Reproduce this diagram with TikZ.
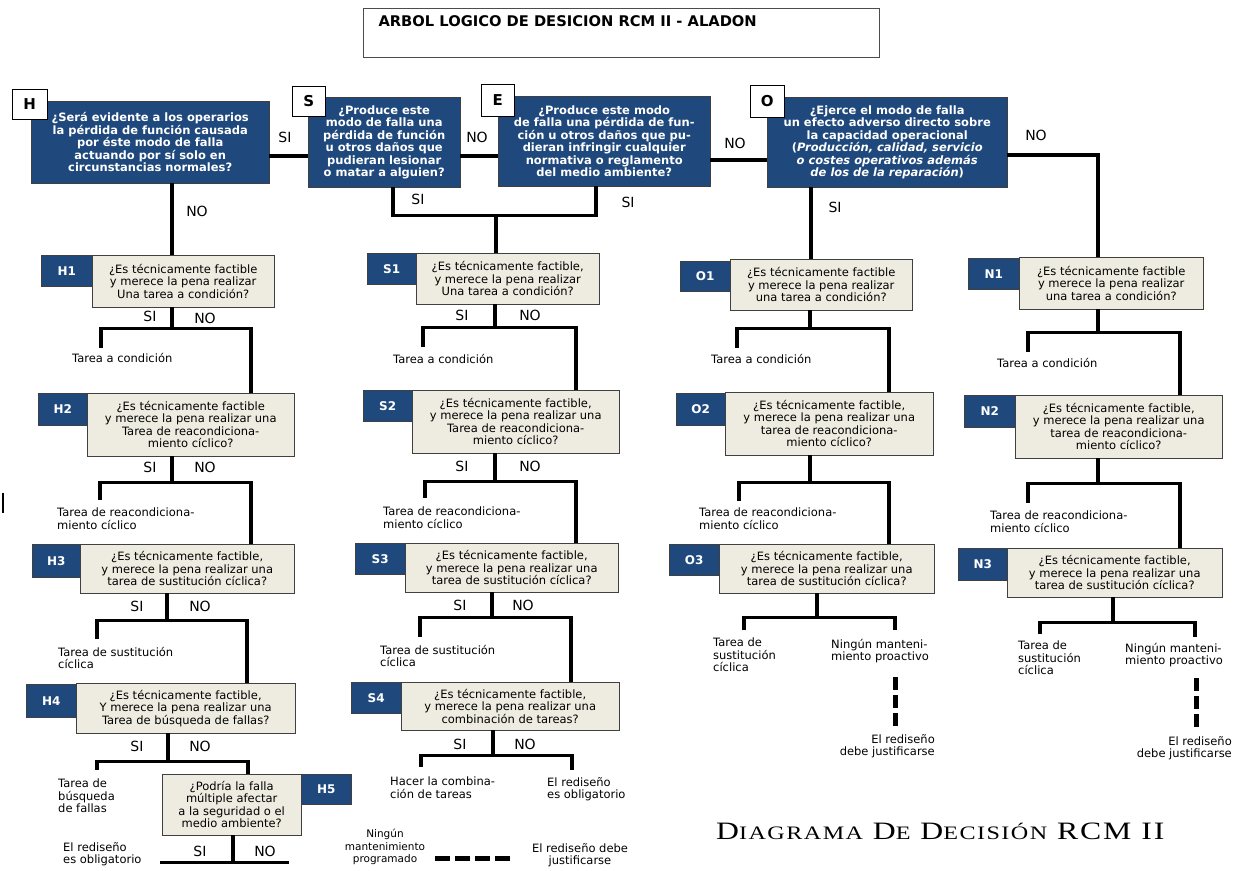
\documentclass[tikz,border=0pt]{standalone}
\usepackage{graphicx}
\usepackage{fontspec}
\setmainfont{DejaVu Sans}
\newfontfamily\titlefont[LetterSpace=6]{Liberation Serif}
\usepackage{tikz}

\definecolor{rcmblue}{RGB}{31,73,125}
\definecolor{rcmbeige}{RGB}{238,236,225}

\newcommand\fbody{\fontsize{11.5}{12.5}\selectfont}
\newcommand\fyn{\fontsize{14}{16}\selectfont}
\newcommand\ftag{\fontsize{12}{14}\selectfont}
\newcommand\scw[2]{#1{\fontsize{19}{22}\selectfont #2}}

\tikzset{
  qhead/.style={draw=black!75, fill=rcmblue, text=white, font=\fbody\bfseries, align=center, anchor=north west, inner sep=1pt},
  qbox/.style={draw=black!75, fill=rcmbeige, font=\fbody, align=center, anchor=north west, inner sep=1pt},
  qtag/.style={draw=black!75, fill=rcmblue, text=white, font=\ftag\bfseries, anchor=north west, inner sep=0pt},
  ltag/.style={draw=black, fill=white, font=\fontsize{15}{17}\selectfont\bfseries, anchor=north west, inner sep=0pt},
  conn/.style={line width=3.6pt},
  yn/.style={font=\fyn},
  res/.style={font=\fbody, align=left, anchor=north west, inner sep=0pt},
  justif/.style={line width=5pt, dash pattern=on 13pt off 5pt},
}

\begin{document}
\begin{tikzpicture}[x=1pt,y=-1pt]
\useasboundingbox (0,0) rectangle (1233,870);

% title
\node[draw=black!70, minimum width=516, minimum height=49, anchor=north west] (tbox) at (363,8) {};
\node[font=\fontsize{14.7}{16}\selectfont\bfseries, anchor=west] (title) at (375,21) {ARBOL LOGICO DE DESICION RCM II - ALADON};

% first row: consequences
\node[qhead, minimum width=238, minimum height=82] (h) at (31,101) {¿Será evidente a los operarios\\la pérdida de función causada\\por éste modo de falla\\actuando por sí solo en\\circunstancias normales?};
\node[ltag, minimum width=35, minimum height=30] (hl) at (12,89) {H};
\node[qhead, minimum width=152, minimum height=90] (s) at (308,97) {¿Produce este\\modo de falla una\\pérdida de función\\u otros daños que\\pudieran lesionar\\o matar a alguien?};
\node[ltag, minimum width=33, minimum height=30] (sl) at (292,86) {S};
\node[qhead, minimum width=212, minimum height=90] (e) at (498,96) {¿Produce este modo\\de falla una pérdida de fun-\\ción u otros daños que pu-\\dieran infringir cualquier\\normativa o reglamento\\del medio ambiente?};
\node[ltag, minimum width=33, minimum height=32] (el) at (481,84) {E};
\node[qhead, minimum width=240, minimum height=90] (o) at (767,97) {¿Ejerce el modo de falla\\un efecto adverso directo sobre\\la capacidad operacional\\(\textit{Producción, calidad, servicio}\\\textit{o costes operativos además}\\\textit{de los de la reparación})};
\node[ltag, minimum width=34, minimum height=32] (ol) at (750,85) {O};

% column H
\node[qbox, minimum width=182, minimum height=52] (h1) at (92,255) {¿Es técnicamente factible\\y merece la pena realizar\\Una tarea a condición?};
\node[qtag, minimum width=51, minimum height=31] (h1t) at (41,255) {H1};
\node[qbox, minimum width=207, minimum height=63] (h2) at (87,393) {¿Es técnicamente factible\\y merece la pena realizar una\\Tarea de reacondiciona-\\miento cíclico?};
\node[qtag, minimum width=49, minimum height=32] (h2t) at (38,393) {H2};
\node[qbox, minimum width=214, minimum height=49] (h3) at (80,544) {¿Es técnicamente factible,\\y merece la pena realizar una\\tarea de sustitución cíclica?};
\node[qtag, minimum width=48, minimum height=33] (h3t) at (32,544) {H3};
\node[qbox, minimum width=219, minimum height=50] (h4) at (76,683) {¿Es técnicamente factible,\\Y merece la pena realizar una\\Tarea de búsqueda de fallas?};
\node[qtag, minimum width=50, minimum height=33] (h4t) at (26,684) {H4};
\node[qbox, minimum width=139, minimum height=61] (h5) at (162,774) {¿Podría la falla\\múltiple afectar\\a la seguridad o el\\medio ambiente?};
\node[qtag, minimum width=50, minimum height=30] (h5t) at (301,774) {H5};

% column S
\node[qbox, minimum width=183, minimum height=51] (s1) at (416,253) {¿Es técnicamente factible,\\y merece la pena realizar\\Una tarea a condición?};
\node[qtag, minimum width=49, minimum height=31] (s1t) at (367,253) {S1};
\node[qbox, minimum width=207, minimum height=63] (s2) at (412,390) {¿Es técnicamente factible,\\y merece la pena realizar una\\Tarea de reacondiciona-\\miento cíclico?};
\node[qtag, minimum width=49, minimum height=31] (s2t) at (363,390) {S2};
\node[qbox, minimum width=213, minimum height=49] (s3) at (405,543) {¿Es técnicamente factible,\\y merece la pena realizar una\\tarea de sustitución cíclica?};
\node[qtag, minimum width=50, minimum height=31] (s3t) at (355,543) {S3};
\node[qbox, minimum width=218, minimum height=48] (s4) at (401,682) {¿Es técnicamente factible,\\y merece la pena realizar una\\combinación de tareas?};
\node[qtag, minimum width=50, minimum height=31] (s4t) at (351,682) {S4};

% column O
\node[qbox, minimum width=182, minimum height=51] (o1) at (730,259) {¿Es técnicamente factible\\y merece la pena realizar\\una tarea a condición?};
\node[qtag, minimum width=50, minimum height=30] (o1t) at (680,261) {O1};
\node[qbox, minimum width=208, minimum height=63] (o2) at (725,392) {¿Es técnicamente factible,\\y merece la pena realizar una\\tarea de reacondiciona-\\miento cíclico?};
\node[qtag, minimum width=49, minimum height=32] (o2t) at (676,393) {O2};
\node[qbox, minimum width=215, minimum height=49] (o3) at (719,544) {¿Es técnicamente factible,\\y merece la pena realizar una\\tarea de sustitución cíclica?};
\node[qtag, minimum width=50, minimum height=31] (o3t) at (669,544) {O3};

% column N
\node[qbox, minimum width=184, minimum height=52] (n1) at (1019,257) {¿Es técnicamente factible\\y merece la pena realizar\\una tarea a condición?};
\node[qtag, minimum width=51, minimum height=31] (n1t) at (968,258) {N1};
\node[qbox, minimum width=207, minimum height=63] (n2) at (1015,395) {¿Es técnicamente factible,\\y merece la pena realizar una\\tarea de reacondiciona-\\miento cíclico?};
\node[qtag, minimum width=51, minimum height=32] (n2t) at (964,395) {N2};
\node[qbox, minimum width=215, minimum height=49] (n3) at (1007,548) {¿Es técnicamente factible,\\y merece la pena realizar una\\tarea de sustitución cíclica?};
\node[qtag, minimum width=49, minimum height=32] (n3t) at (958,548) {N3};

% connectors between the first row
\draw[conn] ([yshift=-14]h.east) -- ([yshift=-14]s.west);
\draw[conn] ([yshift=-14]s.east) -- ([yshift=-15]e.west);
\draw[conn] ([yshift=-19]e.east) -- ([yshift=-18]o.west);
\draw[conn] ([yshift=-13]o.east) -| ([xshift=-13]n1.north);
\coordinate (hno) at ([xshift=22]h.south);
\draw[conn] (hno) -- (hno |- h1.north);
\coordinate (ssi) at ([xshift=9]s.south);
\coordinate (esi) at ([xshift=-8]e.south);
\draw[conn] (ssi) -- ++(0,28) -| (esi);
\coordinate (sej) at (496,215);
\draw[conn] (sej) -- (sej |- s1.north);
\coordinate (osi) at ([xshift=-76]o.south);
\draw[conn] (osi) -- (osi |- o1.north);

% branches H
\draw[conn] ([xshift=-11]h1.south) -- ++(0,21) coordinate (h1j);
\coordinate (h1l) at (101,348);
\draw[conn] (h1l) |- (h1j) -| ([xshift=60.5]h2.north);
\draw[conn] ([xshift=-18.5]h2.south) -- ++(0,26) coordinate (h2j);
\coordinate (h2l) at (100,500);
\draw[conn] (h2l) |- (h2j) -| ([xshift=64]h3.north);
\draw[conn] ([xshift=-20]h3.south) -- ++(0,27) coordinate (h3j);
\coordinate (h3l) at (97,639);
\draw[conn] (h3l) |- (h3j) -| ([xshift=61.5]h4.north);
\draw[conn] ([xshift=-17.5]h4.south) -- ++(0,28) coordinate (h4j);
\coordinate (h4l) at (97,770);
\draw[conn] (h4l) |- (h4j) -| ([xshift=16.5]h5.north);
\draw[conn] ([xshift=1.5]h5.south) -- ++(0,27) coordinate (h5j);
\draw[conn] ([xshift=-73]h5j) -- ([xshift=56]h5j);

% branches S
\draw[conn] ([xshift=-12.5]s1.south) -- ++(0,23) coordinate (s1j);
\coordinate (s1l) at (423,347);
\draw[conn] (s1l) |- (s1j) -| ([xshift=60.5]s2.north);
\draw[conn] ([xshift=-20.5]s2.south) -- ++(0,28) coordinate (s2j);
\coordinate (s2l) at (425,498);
\draw[conn] (s2l) |- (s2j) -| ([xshift=64.5]s3.north);
\draw[conn] ([xshift=-19.5]s3.south) -- ++(0,25) coordinate (s3j);
\coordinate (s3l) at (420,637);
\draw[conn] (s3l) |- (s3j) -| ([xshift=61]s4.north);
\draw[conn] ([xshift=-17]s4.south) -- ++(0,25) coordinate (s4j);
\coordinate (s4l) at (421,767);
\coordinate (s4r) at (572,770);
\draw[conn] (s4l) |- (s4j) -| (s4r);

% branches O
\draw[conn] ([xshift=-11]o1.south) -- ++(0,18) coordinate (o1j);
\coordinate (o1l) at (737,348);
\draw[conn] (o1l) |- (o1j) -| ([xshift=60]o2.north);
\draw[conn] ([xshift=-19]o2.south) -- ++(0,27) coordinate (o2j);
\coordinate (o2l) at (739,501);
\draw[conn] (o2l) |- (o2j) -| ([xshift=62.5]o3.north);
\draw[conn] ([xshift=-9.5]o3.south) -- ++(0,24) coordinate (o3j);
\coordinate (o3l) at (744,630);
\coordinate (o3r) at (895,630);
\draw[conn] (o3l) |- (o3j) -| (o3r);
\coordinate (o3d) at (895,677);
\draw[justif] (o3d) -- ++(0,50);

% branches N
\draw[conn] ([xshift=-13]n1.south) -- ++(0,23) coordinate (n1j);
\coordinate (n1l) at (1028,352);
\draw[conn] (n1l) |- (n1j) -| ([xshift=61.5]n2.north);
\draw[conn] ([xshift=-20.5]n2.south) -- ++(0,25) coordinate (n2j);
\coordinate (n2l) at (1028,503);
\draw[conn] (n2l) |- (n2j) -| ([xshift=65.5]n3.north);
\draw[conn] ([xshift=-1.5]n3.south) -- ++(0,25) coordinate (n3j);
\coordinate (n3l) at (1040,634);
\coordinate (n3r) at (1195,637);
\draw[conn] (n3l) |- (n3j) -| (n3r);
\coordinate (n3d) at (1196,678);
\draw[justif] (n3d) -- ++(0,50);

% SI / NO
\node[yn] (yn1) at (285,137) {SI};
\node[yn] (yn2) at (477,137) {NO};
\node[yn] (yn3) at (735,143) {NO};
\node[yn] (yn4) at (1036,135) {NO};
\node[yn] (yn5) at (197,211) {NO};
\node[yn] (yn6) at (418,199) {SI};
\node[yn] (yn7) at (628,202) {SI};
\node[yn] (yn8) at (835,207) {SI};
\node[yn] (yn9) at (150,316) {SI};
\node[yn] (yn10) at (205,318) {NO};
\node[yn] (yn11) at (150,467) {SI};
\node[yn] (yn12) at (205,467) {NO};
\node[yn] (yn13) at (137,606) {SI};
\node[yn] (yn14) at (200,606) {NO};
\node[yn] (yn15) at (137,746) {SI};
\node[yn] (yn16) at (200,746) {NO};
\node[yn] (yn17) at (200,851) {SI};
\node[yn] (yn18) at (265,851) {NO};
\node[yn] (yn19) at (462,315) {SI};
\node[yn] (yn20) at (530,315) {NO};
\node[yn] (yn21) at (462,466) {SI};
\node[yn] (yn22) at (530,466) {NO};
\node[yn] (yn23) at (460,605) {SI};
\node[yn] (yn24) at (523,605) {NO};
\node[yn] (yn25) at (460,744) {SI};
\node[yn] (yn26) at (525,744) {NO};

% results
\node[res] (h1r) at (72,353) {Tarea a condición};
\node[res] (h2r) at (57,508) {Tarea de reacondiciona-\\miento cíclico};
\node[res] (h3r) at (58,647) {Tarea de sustitución\\cíclica};
\node[res] (h4r) at (58,779) {Tarea de\\búsqueda\\de fallas};
\node[res] (h5r) at (63,842) {El rediseño\\es obligatorio};
\node[res] (s1r) at (393,354) {Tarea a condición};
\node[res] (s2r) at (383,507) {Tarea de reacondiciona-\\miento cíclico};
\node[res] (s3r) at (380,645) {Tarea de sustitución\\cíclica};
\node[res] (s4a) at (390,777) {Hacer la combina-\\ción de tareas};
\node[res] (s4b) at (547,777) {El rediseño\\es obligatorio};
\node[res] (o1r) at (711,354) {Tarea a condición};
\node[res] (o2r) at (699,508) {Tarea de reacondiciona-\\miento cíclico};
\node[res] (o3a) at (713,638) {Tarea de\\sustitución\\cíclica};
\node[res] (o3b) at (831,639) {Ningún manteni-\\miento proactivo};
\node[res, align=right, anchor=north east] (o3c) at (935,734) {El rediseño\\debe justificarse};
\node[res] (n1r) at (997,358) {Tarea a condición};
\node[res] (n2r) at (990,511) {Tarea de reacondiciona-\\miento cíclico};
\node[res] (n3a) at (1018,641) {Tarea de\\sustitución\\cíclica};
\node[res] (n3b) at (1125,643) {Ningún manteni-\\miento proactivo};
\node[res, align=right, anchor=north east] (n3c) at (1232,736) {El rediseño\\debe justificarse};

% legend
\node[res, align=center, anchor=north, font=\fontsize{10.5}{12.5}\selectfont] (lg1) at (385,829) {Ningún\\mantenimiento\\programado};
\coordinate (lgd) at (435,858);
\draw[justif, dash pattern=on 15pt off 5pt] (lgd) -- ++(77,0);
\node[res, align=center, anchor=north] (lg2) at (580,843) {El rediseño debe\\justificarse};

% big caption
\node[anchor=west, inner sep=0pt] (cap) at (716,831) {\scalebox{1.27}[1]{\titlefont\fontsize{25}{28}\selectfont \scw{D}{IAGRAMA} \scw{D}{E} \scw{D}{ECISIÓN} RCM II}};

\draw[line width=1.2pt] (3,493) -- (3,513);
\end{tikzpicture}
\end{document}
